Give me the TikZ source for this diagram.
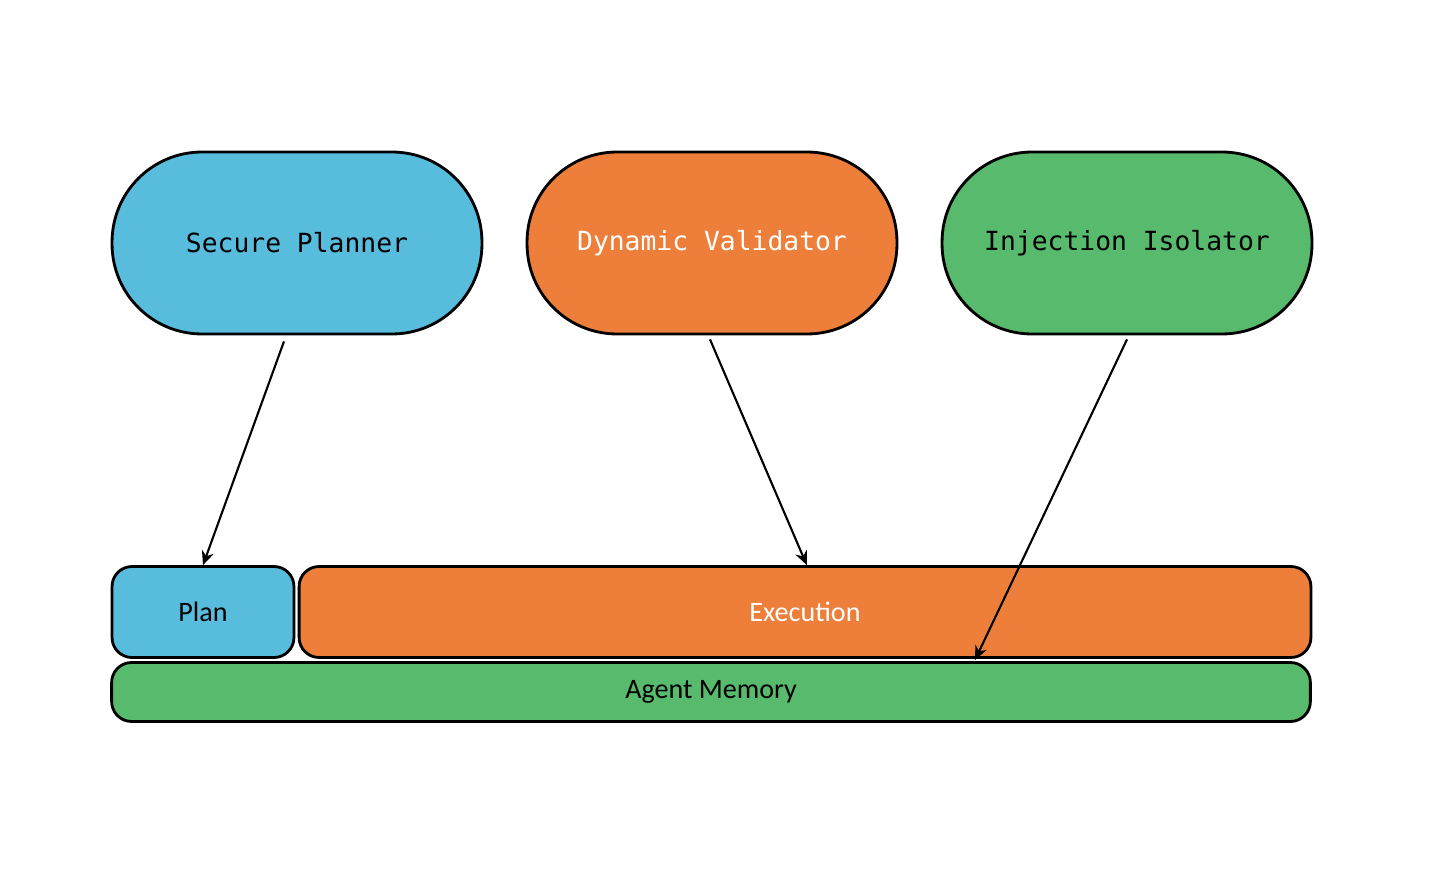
\documentclass[tikz,border=0pt]{standalone}
\usepackage{fontspec}
\setmainfont{Carlito}
\setmonofont{DejaVu Sans Mono}
\usetikzlibrary{arrows.meta,positioning}
\definecolor{planblue}{HTML}{58BCDD}
\definecolor{execorange}{HTML}{ED7F3B}
\definecolor{memgreen}{HTML}{57BA6C}
\tikzset{
  guard/.style={draw=black, line width=1.6pt, rounded corners=1.8cm,
    minimum width=7.4cm, minimum height=3.64cm, font=\ttfamily\fontsize{15}{18}\selectfont},
  layer/.style={draw=black, line width=1.6pt, rounded corners=0.4cm,
    font=\fontsize{16}{19}\selectfont},
  link/.style={-{Stealth[length=8pt,width=7pt]}, line width=1.2pt}
}
\begin{document}
\begin{tikzpicture}[x=0.02cm,y=-0.02cm]
  \useasboundingbox (0,0) rectangle (1442,874);
  % guards
  \node[guard, fill=planblue] (planner) at (297,243) {Secure Planner};
  \node[guard, fill=execorange, text=white] (validator) at (712,243) {Dynamic Validator};
  \node[guard, fill=memgreen] (isolator) at (1127,243) {Injection Isolator};
  % agent layers
  \node[layer, fill=planblue, minimum width=3.64cm, minimum height=1.82cm] (plan) at (203,612) {Plan};
  \node[layer, fill=execorange, text=white, minimum width=20.24cm, minimum height=1.82cm] (exec) at (805,612) {Execution};
  \node[layer, fill=memgreen, minimum width=23.98cm, minimum height=1.18cm] (memory) at (711,692) {Agent Memory};
  \coordinate (memtop) at (975,660);
  % links
  \draw[link] (planner.south) ++(-13,6) coordinate (ps) (ps) -- (plan.north);
  \draw[link] (validator.south) ++(-2,4) coordinate (vs) (vs) -- ([xshift=1pt]exec.north);
  \draw[link] (isolator.south) ++(0,4) coordinate (is) (is) -- (memtop);
\end{tikzpicture}
\end{document}
